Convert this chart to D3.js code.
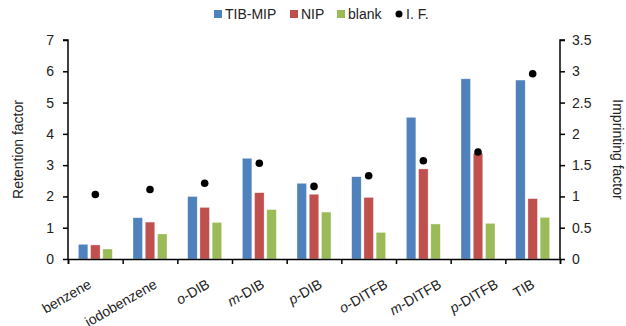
<!DOCTYPE html>
<html>
<head>
<meta charset="utf-8">
<script src="https://cdn.jsdelivr.net/npm/d3@7"></script>
<style>
  body { margin: 0; background: #fff; }
  text { font-family: "Liberation Sans", Arial, sans-serif; fill: #222; }
</style>
</head>
<body>
<svg id="chart" width="626" height="326"></svg>
<script>
// categories: [italic prefix, rest]
const categories = [["", "benzene"], ["", "iodobenzene"], ["o", "-DIB"], ["m", "-DIB"], ["p", "-DIB"],
                    ["o", "-DITFB"], ["m", "-DITFB"], ["p", "-DITFB"], ["", "TIB"]];
const tibMip = [0.47, 1.32, 2.0, 3.22, 2.42, 2.63, 4.53, 5.76, 5.72];
const nip    = [0.45, 1.18, 1.65, 2.12, 2.07, 1.97, 2.88, 3.38, 1.93];
const blank  = [0.32, 0.80, 1.17, 1.58, 1.50, 0.85, 1.12, 1.14, 1.33];
const impF   = [1.03, 1.11, 1.21, 1.53, 1.16, 1.33, 1.57, 1.71, 2.96];
const seriesNames = ["TIB-MIP", "NIP", "blank"];
const colors = ["#4F81BD", "#C0504D", "#9BBB59"];
// small horizontal nudges of the rotated category labels (layout only)
const labelNudge = [-3, 8, 6, 6, 9, 20, 19, 21, 3];

const m = {left: 68, right: 66, top: 40, bottom: 67};
const W = 626, H = 326;
const svg = d3.select('#chart');
const g = svg.append('g');

const x = d3.scaleBand().domain(d3.range(categories.length)).range([m.left, W - m.right]);
const xs = d3.scaleBand().domain(d3.range(3)).range([0, 34]).paddingInner(0.22);
const yL = d3.scaleLinear().domain([0, 7]).range([H - m.bottom, m.top]);
const yR = d3.scaleLinear().domain([0, 3.5]).range([H - m.bottom, m.top]);

const series = [tibMip, nip, blank];
series.forEach((vals, s) => {
  g.append('g').selectAll('rect').data(vals).join('rect')
    .attr('x', (d, i) => x(i) + x.bandwidth() / 2 - 17 + xs(s))
    .attr('width', xs.bandwidth())
    .attr('y', d => yL(d))
    .attr('height', d => yL(0) - yL(d))
    .attr('fill', colors[s])
    .attr('stroke', 'rgba(255,255,255,0.6)')
    .attr('stroke-width', 0.6);
});

// imprinting factor dots
g.append('g').selectAll('circle').data(impF).join('circle')
  .attr('cx', (d, i) => x(i) + x.bandwidth() / 2)
  .attr('cy', d => yR(d))
  .attr('r', 3.8)
  .attr('fill', '#000');

// axes
const axL = g.append('g').attr('transform', `translate(${m.left},0)`)
  .call(d3.axisLeft(yL).ticks(7).tickSize(5).tickPadding(9));
const axR = g.append('g').attr('transform', `translate(${W - m.right},0)`)
  .call(d3.axisRight(yR).tickValues(d3.range(0, 3.51, 0.5)).tickSize(5).tickPadding(7)
    .tickFormat(d3.format('~g')));
const axB = g.append('g').attr('transform', `translate(0,${H - m.bottom})`)
  .call(d3.axisBottom(d3.scaleLinear().domain([0, categories.length]).range([m.left, W - m.right]))
    .ticks(categories.length).tickSize(5).tickFormat(''));
[axL, axR, axB].forEach(a => {
  a.select('.domain').attr('stroke', '#000').attr('stroke-width', 1.5);
  a.selectAll('.tick line').attr('stroke', '#000').attr('stroke-width', 1.5);
  a.selectAll('text').style('font-size', '14px').attr('fill', '#222');
});
axL.select('.domain').attr('d', `M-5,${yL(7)}H0V${yL(0)}`);
axR.select('.domain').attr('d', `M5,${yR(3.5)}H0V${yR(0)}`);

// category labels
const labels = g.append('g').selectAll('text').data(categories).join('text')
  .attr('transform', (d, i) => `translate(${x(i) + x.bandwidth() / 2 + labelNudge[i]},${H - m.bottom + 28}) rotate(-30)`)
  .attr('text-anchor', 'end')
  .style('font-size', '14px');
labels.append('tspan').style('font-style', 'italic').text(d => d[0]);
labels.append('tspan').text(d => d[1]);

// axis titles
g.append('text').attr('transform', `translate(23,${(m.top + H - m.bottom) / 2}) rotate(-90)`)
  .attr('text-anchor', 'middle').style('font-size', '14px').text('Retention factor');
g.append('text').attr('transform', `translate(613,${(m.top + H - m.bottom) / 2}) rotate(90)`)
  .attr('text-anchor', 'middle').style('font-size', '14px').text('Imprinting factor');

// legend
const legend = [
  {name: seriesNames[0], x: 214, type: 'rect', color: colors[0]},
  {name: seriesNames[1], x: 290, type: 'rect', color: colors[1]},
  {name: seriesNames[2], x: 337, type: 'rect', color: colors[2]},
  {name: 'I. F.', x: 395, type: 'dot', color: '#000'}
];
const lg = g.append('g').selectAll('g').data(legend).join('g')
  .attr('transform', d => `translate(${d.x},14)`);
lg.filter(d => d.type === 'rect').append('rect')
  .attr('x', 0).attr('y', -4).attr('width', 8).attr('height', 8).attr('fill', d => d.color);
lg.filter(d => d.type === 'dot').append('circle')
  .attr('cx', 4).attr('cy', 0).attr('r', 3.5).attr('fill', '#000');
lg.append('text').attr('x', 11).attr('y', 5).style('font-size', '14px').text(d => d.name);
</script>
</body>
</html>
